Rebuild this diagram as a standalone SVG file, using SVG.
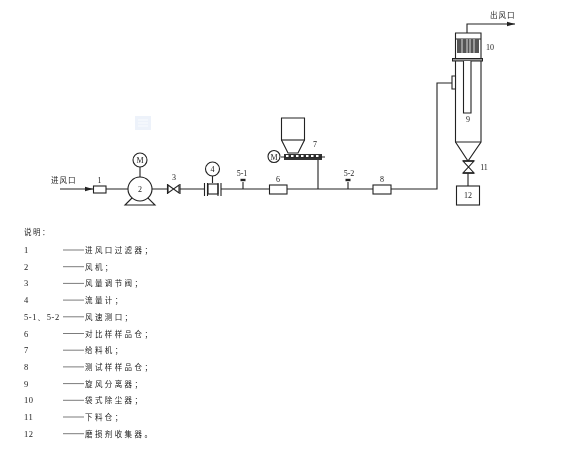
<svg xmlns="http://www.w3.org/2000/svg" width="568" height="450" viewBox="0 0 568 450">
<style>
text{font-family:"Noto Sans CJK SC","Liberation Serif",serif;fill:#222}
.n{font-family:"Liberation Serif","Noto Sans CJK SC",serif;font-size:8px;text-anchor:middle}
.k{font-family:"Liberation Serif",serif;font-size:8.5px;letter-spacing:.6px}
.c{font-size:7.5px;letter-spacing:2.4px}
.l{fill:none;stroke:#222;stroke-width:1.1}
.s{fill:#fff;stroke:#222;stroke-width:1.1}
.t{stroke:#444;stroke-width:.7}
</style>
<defs>
<filter id="soft" x="0" y="0" width="100%" height="100%"><feGaussianBlur stdDeviation="0.35"/></filter>
<marker id="a" markerWidth="9" markerHeight="6" refX="8" refY="3" orient="auto" markerUnits="userSpaceOnUse"><path d="M0 .8L8 3L0 5.2Z" fill="#222"/></marker>
<g id="probe"><path class="l" d="M0 189V182"/><path d="M-2.500 180H2.500" stroke="#222" stroke-width="2.400"/></g>
</defs>
<rect width="568" height="450" fill="#fff"/>
<g filter="url(#soft)">
<g id="watermark"><path d="M135 116H151V130H135Z" fill="#edf2fa"/><path d="M138 120H148M138 123H148M138 126H148" stroke="#fafcfe" stroke-width="1"/></g>
<g id="connectors">
<path class="l" d="M60 189H93" marker-end="url(#a)"/>
<path class="l" d="M106 189H128M152 189H167M180 189H204M221 189H269M287 189H373M391 189H437V83H452"/>
<path class="l" d="M140 167V177M212.500 176V183M318 160V189M468 173V186"/>
<path class="l" d="M467 33V24H515" marker-end="url(#a)"/>
</g>
<g id="node-inlet"><text x="51" y="183" class="c" style="letter-spacing:1px">进风口</text></g>
<g id="node-1"><rect class="s" x="93.500" y="186" width="12.500" height="7"/><text class="n" x="99.500" y="183">1</text></g>
<g id="node-2">
<path class="s" d="M132 198L125 205H155L148 198Z"/>
<circle class="s" cx="140" cy="189" r="12"/><text class="n" x="140" y="192">2</text>
<circle class="s" cx="140" cy="160" r="7"/><text class="n" x="140" y="163">M</text>
</g>
<g id="node-3"><path class="s" d="M168 185L179 193V185L168 193Z"/><path class="l" d="M167.500 184V194M180 184V194"/><text class="n" x="174" y="180">3</text></g>
<g id="node-4">
<rect class="s" x="208" y="184" width="10" height="10"/>
<path class="l" d="M204.500 183V196M207.500 183V196M218 183V196M221 183V196"/>
<circle class="s" cx="212.500" cy="169" r="7"/><text class="n" x="212.500" y="172">4</text>
</g>
<g id="node-5-1"><use href="#probe" x="243"/><text class="n" x="242" y="176">5-1</text></g>
<g id="node-6"><rect class="s" x="269.500" y="185" width="17.500" height="9"/><text class="n" x="278" y="182">6</text></g>
<g id="node-7">
<path class="s" d="M281.500 118H304.500V140L298 153H288L281.500 140Z"/>
<path class="l" d="M281.500 140H304.500"/>
<path d="M284 154H322V160H284Z" fill="#333"/>
<path d="M281 157H325" stroke="#222" stroke-width="1"/>
<path d="M286 156H321" stroke="#fff" stroke-width="2" stroke-dasharray="2.500 2.500"/>
<circle class="s" cx="274" cy="156.500" r="6"/><text class="n" x="274" y="159.500">M</text>
<text class="n" x="315" y="147">7</text>
</g>
<g id="node-5-2"><use href="#probe" x="348"/><text class="n" x="349" y="176">5-2</text></g>
<g id="node-8"><rect class="s" x="373" y="185" width="18" height="9"/><text class="n" x="382" y="182">8</text></g>
<g id="node-9-10">
<path class="s" d="M455.500 33H481V142L468 161L455.500 142Z"/>
<path class="l" d="M455.500 142H481M455.500 39H481"/>
<path class="s" d="M452 76H455.500V89H452Z"/>
<path d="M457 39H479V53H457Z" fill="#555"/>
<path d="M462 39V53M467 39V53M470 39V53M474 39V53" stroke="#ddd" stroke-width="1"/>
<rect x="452.500" y="58.500" width="30" height="2.500" fill="#999" stroke="#222"/>
<path class="s" d="M463.500 61V113H471V61"/>
<text class="n" x="468" y="122">9</text>
<text class="n" x="490" y="50">10</text>
</g>
<g id="node-11"><path class="s" d="M463 161H474L463 173H474Z"/><path d="M463 161H474M463 173H474" stroke="#222" stroke-width="1.500"/><text class="n" x="484" y="170">11</text></g>
<g id="node-12"><rect class="s" x="456.500" y="186" width="23" height="19"/><text class="n" x="468" y="198">12</text></g>
<g id="node-outlet"><text x="490" y="18" class="c" style="letter-spacing:1px">出风口</text></g>
<g id="legend">
<text x="24" y="235" class="c" style="letter-spacing:1.500px">说明：</text>
<path class="t" d="M63 250H84M63 266.700H84M63 283.400H84M63 300.100H84M63 316.800H84M63 333.500H84M63 350.200H84M63 366.900H84M63 383.600H84M63 400.300H84M63 417H84M63 433.700H84"/>
<text x="24" y="253" class="k">1</text><text x="85" y="253" class="c">进风口过滤器；</text>
<text x="24" y="269.700" class="k">2</text><text x="85" y="269.700" class="c">风机；</text>
<text x="24" y="286.400" class="k">3</text><text x="85" y="286.400" class="c">风量调节阀；</text>
<text x="24" y="303.100" class="k">4</text><text x="85" y="303.100" class="c">流量计；</text>
<text x="24" y="319.800" class="k">5-1、5-2</text><text x="85" y="319.800" class="c">风速测口；</text>
<text x="24" y="336.500" class="k">6</text><text x="85" y="336.500" class="c">对比样样品仓；</text>
<text x="24" y="353.200" class="k">7</text><text x="85" y="353.200" class="c">给料机；</text>
<text x="24" y="369.900" class="k">8</text><text x="85" y="369.900" class="c">测试样样品仓；</text>
<text x="24" y="386.600" class="k">9</text><text x="85" y="386.600" class="c">旋风分离器；</text>
<text x="24" y="403.300" class="k">10</text><text x="85" y="403.300" class="c">袋式除尘器；</text>
<text x="24" y="420" class="k">11</text><text x="85" y="420" class="c">下料仓；</text>
<text x="24" y="436.700" class="k">12</text><text x="85" y="436.700" class="c">磨损剂收集器。</text>
</g>
</g>
</svg>
